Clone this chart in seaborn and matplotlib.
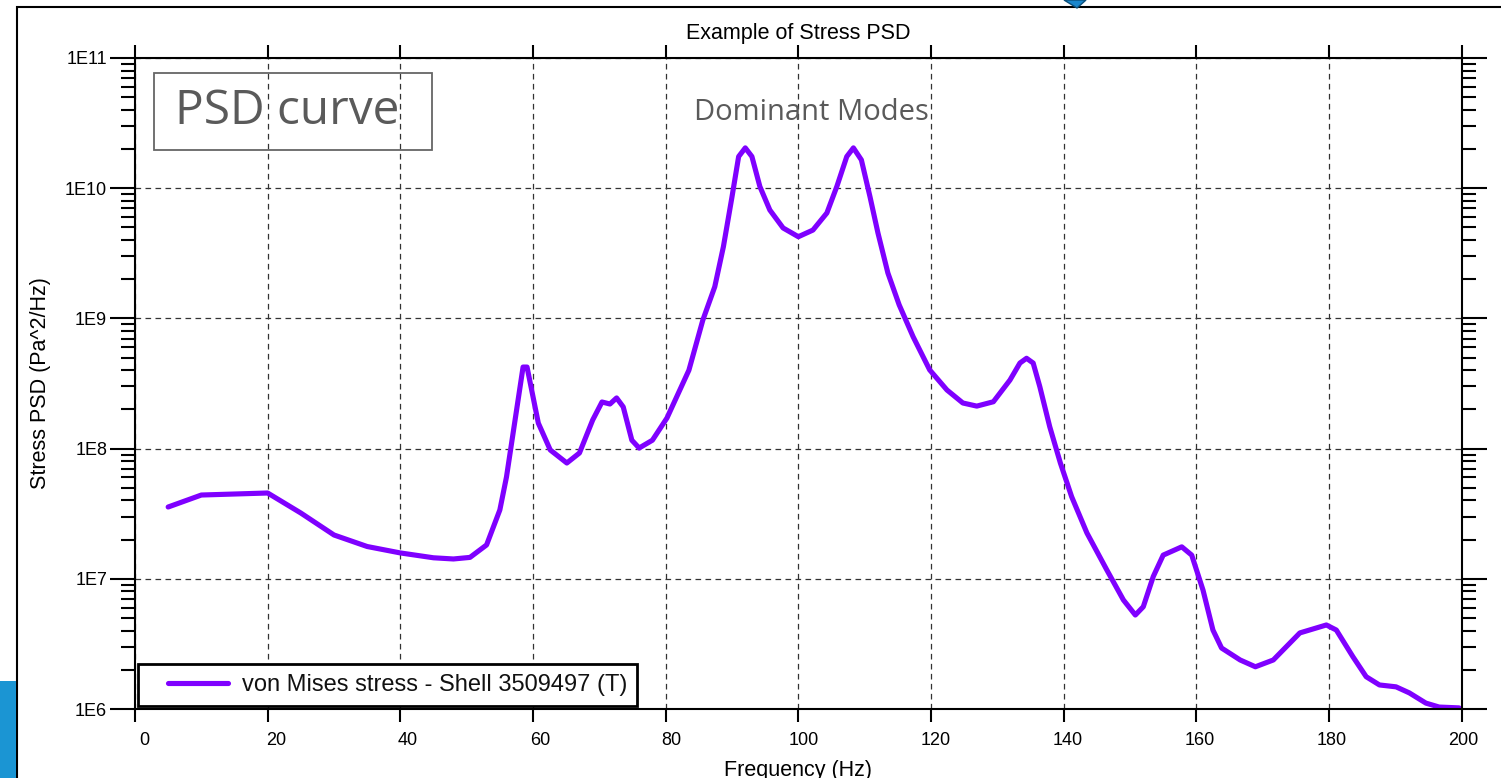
import numpy as np
import pandas as pd
import matplotlib
matplotlib.use("Agg")
import matplotlib.pyplot as plt
import matplotlib.transforms as mtransforms
import seaborn as sns
from matplotlib.ticker import FixedLocator, LogLocator, FuncFormatter, NullFormatter, NullLocator
from matplotlib.patches import Rectangle, Polygon
from matplotlib.legend_handler import HandlerLine2D

# ---------------- data ----------------
freq_hz = [5, 10, 20, 25, 30, 35, 40, 45, 48, 50.5, 53, 55, 56, 58.5, 59.1, 60.8, 62.6,
           65.1, 67, 69, 70.4, 71.6, 72.6, 73.6, 74.9, 76, 78, 80.2, 83.5, 85.6, 87.4,
           88.7, 90, 91, 92, 93, 94.2, 95.7, 97.7, 100, 102.2, 104.3, 105.8, 107.3,
           108.3, 109.5, 110.8, 112, 113.5, 115.2, 117.3, 119.8, 122.4, 124.8, 126.9,
           129.4, 131.9, 133.4, 134.4, 135.4, 136.4, 137.9, 139.5, 141.2, 143.5, 146.5,
           149, 150.8, 152, 153.5, 155, 157.8, 159.3, 161, 162.5, 163.8, 166.6, 168.9,
           171.6, 175.6, 179.6, 181.1, 183.6, 185.6, 187.6, 190.1, 192.1, 194.6, 196.6,
           199.6]
stress_psd = [3.56e7, 4.40e7, 4.56e7, 3.2e7, 2.17e7, 1.77e7, 1.58e7, 1.45e7, 1.42e7,
              1.46e7, 1.82e7, 3.38e7, 6.05e7, 4.23e8, 4.23e8, 1.57e8, 9.76e7, 7.75e7,
              9.25e7, 1.66e8, 2.28e8, 2.20e8, 2.45e8, 2.09e8, 1.16e8, 1.01e8, 1.16e8,
              1.72e8, 4.0e8, 9.7e8, 1.75e9, 3.55e9, 8.6e9, 1.75e10, 2.04e10, 1.75e10,
              1.03e10, 6.8e9, 4.95e9, 4.24e9, 4.77e9, 6.45e9, 1.03e10, 1.75e10, 2.04e10,
              1.65e10, 8.6e9, 4.53e9, 2.23e9, 1.27e9, 7.23e8, 4.02e8, 2.82e8, 2.24e8,
              2.12e8, 2.29e8, 3.36e8, 4.54e8, 4.94e8, 4.54e8, 2.99e8, 1.47e8, 7.75e7,
              4.27e7, 2.25e7, 1.17e7, 6.88e6, 5.27e6, 6.1e6, 1.04e7, 1.52e7, 1.76e7,
              1.52e7, 8.2e6, 4.04e6, 2.94e6, 2.38e6, 2.11e6, 2.38e6, 3.84e6, 4.42e6,
              4.04e6, 2.52e6, 1.77e6, 1.53e6, 1.48e6, 1.33e6, 1.11e6, 1.035e6, 1.02e6]
series_label = "von Mises stress - Shell 3509497 (T)"
x_ticks = [0, 20, 40, 60, 80, 100, 120, 140, 160, 180, 200]
y_ticks = [1e6, 1e7, 1e8, 1e9, 1e10, 1e11]
title = "Example of Stress PSD"
x_label = "Frequency (Hz)"
y_label = "Stress PSD (Pa^2/Hz)"
annot_box_text = "PSD curve"
annot_text = "Dominant Modes"

df = pd.DataFrame({"freq": freq_hz, "psd": stress_psd})

# ---------------- style ----------------
sns.set_theme(style="white")
plt.rcParams['font.family'] = ['Liberation Sans', 'DejaVu Sans']

W, H = 1501, 778
fig = plt.figure(figsize=(W / 100, H / 100), dpi=100)
fig.patch.set_facecolor("white")
ax = fig.add_axes([135 / W, 69 / H, 1326.7 / W, 651 / H])

sns.lineplot(data=df, x="freq", y="psd", ax=ax, color="#7F00FF", linewidth=3.7,
             label=series_label, solid_joinstyle="round", solid_capstyle="round")

ax.set_yscale("log")
ax.set_xlim(0, 200)
ax.set_ylim(1e6, 1e11)

ax.xaxis.set_major_locator(FixedLocator(x_ticks))
ax.xaxis.set_minor_locator(NullLocator())
ax.yaxis.set_major_locator(FixedLocator(y_ticks))
ax.yaxis.set_minor_locator(LogLocator(base=10, subs=np.arange(2, 10), numticks=20))
ax.yaxis.set_major_formatter(FuncFormatter(lambda v, p: f"1E{int(round(np.log10(v)))}"))
ax.yaxis.set_minor_formatter(NullFormatter())

ax.tick_params(axis="x", which="major", direction="out", length=9.5, width=1.5,
               top=True, bottom=True, labeltop=False, labelsize=13, pad=7, color="black",
               labelcolor="black")
ax.tick_params(axis="y", which="major", direction="out", length=18, width=1.5,
               left=True, right=True, labelright=False, labelsize=13, pad=2,
               color="black", labelcolor="black")
ax.tick_params(axis="y", which="minor", direction="out", length=10, width=1.5,
               left=True, right=True, color="black")

for s in ax.spines.values():
    s.set_visible(True)
    s.set_color("black")
    s.set_linewidth(1.5)

ax.grid(True, which="major", axis="both", linestyle=(0, (4.5, 3.5)), color="#333333",
        linewidth=0.9)
ax.set_axisbelow(True)

ax.set_title(title, fontsize=15.5, pad=14, color="black")
ax.set_xlabel(x_label, fontsize=15.5, labelpad=8, color="black")
ax.set_ylabel(y_label, fontsize=15.5, labelpad=10, color="black")

# x tick labels in the reference sit slightly right of their ticks
fig.canvas.draw()
for lab, xv in zip(ax.get_xticklabels(), x_ticks):
    shift_px = 9 - 7.5 * xv / 200
    lab.set_transform(lab.get_transform() +
                      mtransforms.ScaledTranslation(shift_px / 100, 0, fig.dpi_scale_trans))

# legend
leg = ax.legend(loc="lower left", bbox_to_anchor=(0, 0), borderaxespad=0.12,
                fontsize=17, handlelength=3.39, handletextpad=0.59, borderpad=0.42,
                frameon=True, fancybox=False, framealpha=1, edgecolor="black",
                handler_map={plt.Line2D: HandlerLine2D(xpad=0.85)})
leg.get_frame().set_linewidth(2)
for t in leg.get_texts():
    t.set_color("#111111")

# annotations
ann_font = ["Open Sans", "DejaVu Sans"]
fig.add_artist(Rectangle((154 / W, 1 - 150 / H), 278 / W, 77 / H, transform=fig.transFigure,
                         fill=False, edgecolor="#666666", linewidth=1.3))
fig.text(287 / W, 1 - 111.5 / H, annot_box_text, fontsize=34.5, family=ann_font,
         color="#5a5a5a", ha="center", va="center")
fig.text(811 / W, 1 - 113 / H, annot_text, fontsize=21, family=ann_font,
         color="#5a5a5a", ha="center", va="center")

# outer frame and decorations
fig.add_artist(Rectangle((17 / W, -0.1), 2.0, 1 - 7 / H + 0.1, transform=fig.transFigure,
                         fill=False, edgecolor="black", linewidth=1.5, clip_on=False))
fig.add_artist(Rectangle((0, 0), 16 / W, (H - 681) / H, transform=fig.transFigure,
                         facecolor="#1b95d3", edgecolor="none"))
fig.add_artist(Polygon([[1064 / W, 1.0], [1077 / W, 1 - 8 / H], [1086 / W, 1.0]],
                       closed=True, transform=fig.transFigure, facecolor="#1a86cc",
                       edgecolor="#0b4f7a", linewidth=1))

fig.savefig("out.png", dpi=100, facecolor="white")
